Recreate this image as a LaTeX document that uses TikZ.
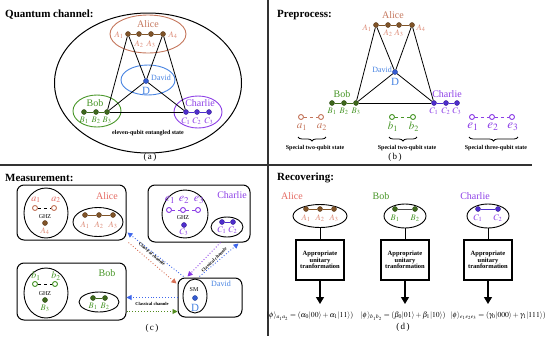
\documentclass[tikz,border=0pt]{standalone}
\usepackage{mathptmx}
\usepackage{fontspec}
\setmainfont{Liberation Serif}
\usepackage{amsmath}
\usepackage{xcolor}
\usepackage{tikz}
\usetikzlibrary{shapes.geometric, arrows.meta, positioning, decorations.pathreplacing}

\definecolor{alicec}{RGB}{196,118,92}
\definecolor{alicered}{RGB}{228,104,96}
\definecolor{alicedot}{RGB}{128,84,40}
\definecolor{alicesub}{RGB}{220,138,118}
\definecolor{bobc}{RGB}{72,150,40}
\definecolor{bobdot}{RGB}{62,104,28}
\definecolor{charc}{RGB}{140,62,230}
\definecolor{chardot}{RGB}{78,46,205}
\definecolor{davc}{RGB}{70,130,225}
\definecolor{davdot}{RGB}{52,92,210}
\definecolor{ccred}{RGB}{215,112,86}
\definecolor{ccblue}{RGB}{62,102,235}
\definecolor{ccpurple}{RGB}{135,52,230}
\definecolor{ccgreen}{RGB}{82,140,30}

\newcommand{\fsz}[1]{\fontsize{#1}{#1}\selectfont}

\begin{document}
\begin{tikzpicture}[
    x=1pt, y=-1pt,
    >=Stealth,
    title_text/.style={anchor=west, font=\fsz{11}\bfseries, inner sep=0pt},
    name_text/.style={font=\fsz{10}, inner sep=0pt},
    david_text/.style={font=\fsz{8}, text=davc, inner sep=0pt},
    big_d/.style={font=\fsz{11}, text=davc, inner sep=0pt},
    sub_text/.style={font=\fsz{8.5}, inner sep=0pt},
    open_lab/.style={font=\fsz{11}, inner sep=0pt},
    small_bold/.style={font=\fsz{6}\bfseries, inner sep=0pt},
    cap_text/.style={font=\fsz{9}, inner sep=0pt},
    ghz_text/.style={font=\fsz{6}, inner sep=0pt},
    eq_text/.style={font=\fsz{8}, inner sep=0pt, scale=0.95, transform shape},
    % Qubits
    qubit_dot/.style={circle, draw=#1!70!black, fill=#1, inner sep=0pt, minimum size=5pt},
    open_dot/.style={circle, draw=#1, fill=white, line width=0.9pt, inner sep=0pt, minimum size=5pt},
    % Containers
    party_ellipse/.style={ellipse, draw=#1, line width=0.9pt, inner sep=0pt},
    meas_box/.style={rectangle, rounded corners=7pt, draw=black, line width=1pt, inner sep=0pt},
    unit_box/.style={rectangle, draw=black, line width=1.2pt, minimum width=48pt, minimum height=40pt, align=center, font=\fsz{6.5}\bfseries, inner sep=1pt},
    % Connectors
    link_line/.style={draw=black, line width=0.8pt},
    pair_line/.style={line width=0.9pt},
    cc_arrow/.style={dotted, line width=0.9pt, -{Triangle[length=5pt, width=5pt]}},
    cc_text/.style={font=\fsz{4.5}\bfseries, inner sep=0.5pt},
    down_arrow/.style={draw=black, line width=1.2pt, -{Triangle[length=7pt, width=8pt]}},
    brace_deco/.style={decorate, decoration={brace, mirror, amplitude=4pt}, line width=0.8pt}
]
    \useasboundingbox (0,0) rectangle (550,346);

    % =========================================================================
    % DIVIDERS
    % =========================================================================
    \draw[line width=1.3pt, black!80] (268,0) -- (268,336);
    \draw[line width=1.3pt, black!80] (0,165) -- (532,165);

    % =========================================================================
    % (a) QUANTUM CHANNEL
    % =========================================================================
    \node[title_text] (title_a) at (5,15) {Quantum channel:};
    \node[ellipse, draw=black, line width=1pt, minimum width=187pt, minimum height=140pt] (channel) at (148,83) {};

    \node[party_ellipse=alicec, minimum width=76pt, minimum height=38pt] (a_alice_ell) at (148,34) {};
    \node[party_ellipse=davc, minimum width=54pt, minimum height=30pt] (a_david_ell) at (148,80) {};
    \node[party_ellipse=bobc, minimum width=48pt, minimum height=32pt] (a_bob_ell) at (97,111) {};
    \node[party_ellipse=charc, minimum width=48pt, minimum height=32pt] (a_char_ell) at (198,112) {};

    \node[name_text, text=alicec] (a_alice) at (148,24) {Alice};
    \node[david_text] (a_david) at (161,78) {David};
    \node[name_text, text=bobc] (a_bob) at (95,103) {Bob};
    \node[name_text, text=charc] (a_char) at (200,103) {Charlie};

    \node[qubit_dot=alicedot] (qa_A1) at (128,34) {};
    \node[qubit_dot=alicedot] (qa_A2) at (139,34) {};
    \node[qubit_dot=alicedot] (qa_A3) at (151,34) {};
    \node[qubit_dot=alicedot] (qa_A4) at (163,34) {};
    \node[qubit_dot=davdot] (qa_D) at (146,81) {};
    \node[qubit_dot=bobdot] (qa_B1) at (84,112) {};
    \node[qubit_dot=bobdot] (qa_B2) at (96,112) {};
    \node[qubit_dot=bobdot] (qa_B3) at (107,112) {};
    \node[qubit_dot=chardot] (qa_C1) at (186,112) {};
    \node[qubit_dot=chardot] (qa_C2) at (197,112) {};
    \node[qubit_dot=chardot] (qa_C3) at (209,112) {};

    \node[sub_text, text=alicesub] (la_A1) at (119,35) {$A_1$};
    \node[sub_text, text=alicesub] (la_A2) at (139,44) {$A_2$};
    \node[sub_text, text=alicesub] (la_A3) at (151,44) {$A_3$};
    \node[sub_text, text=alicesub] (la_A4) at (173,35) {$A_4$};
    \node[big_d] (la_D) at (146,91) {D};
    \node[sub_text, text=bobc] (la_B1) at (84,120) {$B_1$};
    \node[sub_text, text=bobc] (la_B2) at (96,120) {$B_2$};
    \node[sub_text, text=bobc] (la_B3) at (107,120) {$B_3$};
    \node[sub_text, text=charc] (la_C1) at (186,121) {$C_1$};
    \node[sub_text, text=charc] (la_C2) at (197,121) {$C_2$};
    \node[sub_text, text=charc] (la_C3) at (209,121) {$C_3$};

    \draw[pair_line, draw=alicedot] (qa_A1) -- (qa_A2) -- (qa_A3) -- (qa_A4);
    \draw[pair_line, draw=bobdot] (qa_B1) -- (qa_B2) -- (qa_B3);
    \draw[pair_line, draw=chardot] (qa_C1) -- (qa_C2) -- (qa_C3);

    \draw[link_line] (qa_A1) -- (qa_B3);
    \draw[link_line] (qa_A1) -- (qa_D);
    \draw[link_line] (qa_A4) -- (qa_D);
    \draw[link_line] (qa_A4) -- (qa_C1);
    \draw[link_line] (qa_D) -- (qa_B3);
    \draw[link_line] (qa_D) -- (qa_C1);
    \draw[link_line] (qa_B3) -- (qa_C1);

    \node[small_bold] (a_state) at (148,133) {eleven-qubit entangled state};
    \node[cap_text] (cap_a) at (150,157) {(\,a\,)};

    % =========================================================================
    % (b) PREPROCESS
    % =========================================================================
    \node[title_text] (title_b) at (277,15) {Preprocess:};

    \node[name_text, text=alicec] (b_alice) at (393,15) {Alice};
    \node[david_text, anchor=east] (b_david) at (392,70) {David};
    \node[name_text, text=bobc] (b_bob) at (342,94) {Bob};
    \node[name_text, text=charc] (b_char) at (447,94) {Charlie};

    \node[qubit_dot=alicedot] (qb_A1) at (376,25) {};
    \node[qubit_dot=alicedot] (qb_A2) at (388,25) {};
    \node[qubit_dot=alicedot] (qb_A3) at (399,25) {};
    \node[qubit_dot=alicedot] (qb_A4) at (412,25) {};
    \node[qubit_dot=davdot] (qb_D) at (395,72) {};
    \node[qubit_dot=bobdot] (qb_B1) at (332,103) {};
    \node[qubit_dot=bobdot] (qb_B2) at (344,103) {};
    \node[qubit_dot=bobdot] (qb_B3) at (356,103) {};
    \node[qubit_dot=chardot] (qb_C1) at (434,103) {};
    \node[qubit_dot=chardot] (qb_C2) at (446,103) {};
    \node[qubit_dot=chardot] (qb_C3) at (457,103) {};

    \node[sub_text, text=alicesub] (lb_A1) at (367,28) {$A_1$};
    \node[sub_text, text=alicesub] (lb_A2) at (388,33) {$A_2$};
    \node[sub_text, text=alicesub] (lb_A3) at (399,33) {$A_3$};
    \node[sub_text, text=alicesub] (lb_A4) at (421,28) {$A_4$};
    \node[big_d] (lb_D) at (395,82) {D};
    \node[sub_text, text=bobc] (lb_B1) at (332,111) {$B_1$};
    \node[sub_text, text=bobc] (lb_B2) at (344,111) {$B_2$};
    \node[sub_text, text=bobc] (lb_B3) at (356,111) {$B_3$};
    \node[sub_text, text=charc] (lb_C1) at (434,111) {$C_1$};
    \node[sub_text, text=charc] (lb_C2) at (446,111) {$C_2$};
    \node[sub_text, text=charc] (lb_C3) at (457,111) {$C_3$};

    \draw[pair_line, draw=alicedot] (qb_A1) -- (qb_A2) -- (qb_A3) -- (qb_A4);
    \draw[pair_line, draw=bobdot] (qb_B1) -- (qb_B2) -- (qb_B3);
    \draw[pair_line, draw=chardot] (qb_C1) -- (qb_C2) -- (qb_C3);

    \draw[link_line] (qb_A1) -- (qb_B3);
    \draw[link_line] (qb_A1) -- (qb_D);
    \draw[link_line] (qb_A4) -- (qb_D);
    \draw[link_line] (qb_A4) -- (qb_C1);
    \draw[link_line] (qb_D) -- (qb_B3);
    \draw[link_line] (qb_D) -- (qb_C1);
    \draw[link_line] (qb_B3) -- (qb_C1);

    % Special states
    \node[open_dot=alicec] (ob_a1) at (301,117) {};
    \node[open_dot=alicec] (ob_a2) at (321,117) {};
    \node[open_dot=bobc] (ob_b1) at (392,117) {};
    \node[open_dot=bobc] (ob_b2) at (413,117) {};
    \node[open_dot=charc] (ob_e1) at (472,117) {};
    \node[open_dot=charc] (ob_e2) at (492,117) {};
    \node[open_dot=charc] (ob_e3) at (512,117) {};
    \draw[pair_line, dashed, draw=alicec] (ob_a1) -- (ob_a2);
    \draw[pair_line, dashed, draw=bobc] (ob_b1) -- (ob_b2);
    \draw[pair_line, dashed, draw=charc] (ob_e1) -- (ob_e2) -- (ob_e3);

    \node[open_lab, text=alicec] (lb_a1) at (302,127) {$a_1$};
    \node[open_lab, text=alicec] (lb_a2) at (322,127) {$a_2$};
    \node[open_lab, text=bobc] (lb_b1) at (393,127) {$b_1$};
    \node[open_lab, text=bobc] (lb_b2) at (414,127) {$b_2$};
    \node[open_lab, text=charc, font=\fsz{13}] (lb_e1) at (473,127) {$e_1$};
    \node[open_lab, text=charc, font=\fsz{13}] (lb_e2) at (493,127) {$e_2$};
    \node[open_lab, text=charc, font=\fsz{13}] (lb_e3) at (513,127) {$e_3$};

    \draw[brace_deco] (298,137) -- (326,137);
    \draw[brace_deco] (389,137) -- (417,137);
    \draw[brace_deco] (469,137) -- (518,137);

    \node[small_bold] (b_two_a) at (315,148) {Special two-qubit state};
    \node[small_bold] (b_two_b) at (407,148) {Special two-qubit state};
    \node[small_bold] (b_three) at (496,148) {Special three-qubit state};
    \node[cap_text] (cap_b) at (395,157) {(\,b\,)};

    % =========================================================================
    % (c) MEASUREMENT
    % =========================================================================
    \node[title_text] (title_c) at (5,178) {Measurement:};

    \node[meas_box, minimum width=109pt, minimum height=55pt] (alice_mbox) at (71.5,212.5) {};
    \node[meas_box, minimum width=109pt, minimum height=57pt] (bob_mbox) at (71.5,291.5) {};
    \node[meas_box, minimum width=102pt, minimum height=57pt] (char_mbox) at (199,213.5) {};
    \node[meas_box, minimum width=64pt, minimum height=39pt] (david_mbox) at (210,297.5) {};

    \node[name_text, text=alicered] (c_alice) at (107,196) {Alice};
    \node[name_text, text=bobc] (c_bob) at (107,273) {Bob};
    \node[name_text, text=charc] (c_char) at (232,195) {Charlie};
    \node[david_text] (c_david) at (221,284) {David};

    % Alice
    \node[ellipse, draw=black, line width=0.9pt, minimum width=44pt, minimum height=50pt] (c_alice_ghz) at (46,213) {};
    \node[ellipse, draw=black, line width=0.9pt, minimum width=50pt, minimum height=29pt] (c_alice_pair) at (98,222) {};
    \node[open_dot=alicec] (oc_a1) at (35,208) {};
    \node[open_dot=alicec] (oc_a2) at (54,208) {};
    \draw[pair_line, dashed] (oc_a1) -- (oc_a2);
    \node[open_lab, text=alicered, font=\fsz{10}] (lc_a1) at (36,200) {$a_1$};
    \node[open_lab, text=alicered, font=\fsz{10}] (lc_a2) at (56,200) {$a_2$};
    \node[ghz_text] (c_alice_g) at (45,217) {GHZ};
    \node[qubit_dot=alicedot] (qc_A4) at (45,223) {};
    \node[sub_text, text=alicesub] (lc_A4) at (45,231) {$A_4$};
    \node[qubit_dot=alicedot] (qc_A1) at (85,215) {};
    \node[qubit_dot=alicedot] (qc_A2) at (99,215) {};
    \node[qubit_dot=alicedot] (qc_A3) at (113,215) {};
    \draw[pair_line, draw=alicedot] (qc_A1) -- (qc_A2) -- (qc_A3);
    \node[sub_text, text=alicesub] (lc_A1) at (85,225) {$A_1$};
    \node[sub_text, text=alicesub] (lc_A2) at (99,225) {$A_2$};
    \node[sub_text, text=alicesub] (lc_A3) at (113,225) {$A_3$};

    % Bob
    \node[ellipse, draw=black, line width=0.9pt, minimum width=44pt, minimum height=50pt] (c_bob_ghz) at (46,293) {};
    \node[ellipse, draw=black, line width=0.9pt, minimum width=40pt, minimum height=20pt] (c_bob_pair) at (99,302) {};
    \node[open_dot=bobc] (oc_b1) at (35,284) {};
    \node[open_dot=bobc] (oc_b2) at (55,284) {};
    \draw[pair_line, dashed] (oc_b1) -- (oc_b2);
    \node[open_lab, text=bobc, font=\fsz{10}] (lc_b1) at (36,276) {$b_1$};
    \node[open_lab, text=bobc, font=\fsz{10}] (lc_b2) at (56,276) {$b_2$};
    \node[ghz_text] (c_bob_g) at (45,294) {GHZ};
    \node[qubit_dot=bobdot] (qc_B3) at (45,300) {};
    \node[sub_text, text=bobc] (lc_B3) at (45,308) {$B_3$};
    \node[qubit_dot=bobdot] (qc_B1) at (93,298) {};
    \node[qubit_dot=bobdot] (qc_B2) at (105,298) {};
    \draw[pair_line, draw=bobdot] (qc_B1) -- (qc_B2);
    \node[sub_text, text=bobc] (lc_B1) at (93,306) {$B_1$};
    \node[sub_text, text=bobc] (lc_B2) at (105,306) {$B_2$};

    % Charlie
    \node[ellipse, draw=black, line width=0.9pt, minimum width=46pt, minimum height=48pt] (c_char_ghz) at (185,214) {};
    \node[ellipse, draw=black, line width=0.9pt, minimum width=32pt, minimum height=20pt] (c_char_pair) at (227,227) {};
    \node[open_dot=charc] (oc_e1) at (169,210) {};
    \node[open_dot=charc] (oc_e2) at (183,210) {};
    \node[open_dot=charc] (oc_e3) at (198,210) {};
    \draw[pair_line, dashed, draw=charc] (oc_e1) -- (oc_e2) -- (oc_e3);
    \node[open_lab, text=charc, font=\fsz{12}] (lc_e1) at (170,200) {$e_1$};
    \node[open_lab, text=charc, font=\fsz{12}] (lc_e2) at (184,200) {$e_2$};
    \node[open_lab, text=charc, font=\fsz{12}] (lc_e3) at (199,200) {$e_3$};
    \node[ghz_text] (c_char_g) at (183,218) {GHZ};
    \node[qubit_dot=chardot] (qc_C3) at (184,225) {};
    \node[sub_text, text=charc] (lc_C3) at (184,232) {$C_3$};
    \node[qubit_dot=chardot] (qc_C1) at (222,222) {};
    \node[qubit_dot=chardot] (qc_C2) at (233,222) {};
    \draw[pair_line, draw=chardot] (qc_C1) -- (qc_C2);
    \node[sub_text, text=charc] (lc_C1) at (222,230) {$C_1$};
    \node[sub_text, text=charc] (lc_C2) at (233,230) {$C_2$};

    % David
    \node[ellipse, draw=black, line width=0.9pt, minimum width=24pt, minimum height=34pt] (c_david_sm) at (195,296) {};
    \node[ghz_text] (c_sm) at (194,290) {SM};
    \node[qubit_dot=davdot] (qc_D) at (195,298) {};
    \node[big_d] (lc_D) at (195,308) {D};

    % Classical channels
    \draw[cc_arrow, draw=ccred] ([xshift=2pt, yshift=-2pt]alice_mbox.south east) -- ([xshift=-1pt, yshift=-6pt]david_mbox.north west);
    \draw[cc_arrow, draw=ccblue] ([xshift=6pt, yshift=1pt]david_mbox.north west) -- ([xshift=1pt, yshift=8pt]alice_mbox.south east);
    \node[cc_text, rotate=-40] (cc_ad) at (152,254) {Classical channle};

    \draw[cc_arrow, draw=ccpurple] ([xshift=-30pt]char_mbox.south east) -- ([xshift=10pt, yshift=1pt]david_mbox.north west);
    \draw[cc_arrow, draw=ccblue] ([xshift=22pt, yshift=1pt]david_mbox.north west) -- ([xshift=-12pt, yshift=-1pt]char_mbox.south east);
    \node[cc_text, rotate=44] (cc_cd) at (214,260) {Classical channle};

    \coordinate (bob_cc) at ([yshift=9pt]bob_mbox.south east);
    \draw[cc_arrow, draw=ccblue] (david_mbox.west) -- (david_mbox.west -| bob_mbox.east);
    \draw[cc_arrow, draw=ccgreen] (bob_cc) -- (bob_cc -| david_mbox.west);
    \node[cc_text] (cc_bd) at (152,304) {Classical channle};

    \node[cap_text] (cap_c) at (152,328) {(\,c\,)};

    % =========================================================================
    % (d) RECOVERING
    % =========================================================================
    \node[title_text] (title_d) at (277,178) {Recovering:};

    \node[name_text, text=alicered] (d_alice) at (292,196) {Alice};
    \node[name_text, text=bobc] (d_bob) at (381,196) {Bob};
    \node[name_text, text=charc] (d_char) at (475,196) {Charlie};

    \node[ellipse, draw=black, line width=0.9pt, minimum width=54pt, minimum height=23pt] (d_alice_ell) at (320,216) {};
    \node[ellipse, draw=black, line width=0.9pt, minimum width=42pt, minimum height=24pt] (d_bob_ell) at (405,216) {};
    \node[ellipse, draw=black, line width=0.9pt, minimum width=42pt, minimum height=24pt] (d_char_ell) at (488,216) {};

    \node[qubit_dot=alicedot] (qd_A1) at (306,209) {};
    \node[qubit_dot=alicedot] (qd_A2) at (320,209) {};
    \node[qubit_dot=alicedot] (qd_A3) at (334,209) {};
    \draw[pair_line, draw=alicedot] (qd_A1) -- (qd_A2) -- (qd_A3);
    \node[sub_text, text=alicesub] (ld_A1) at (306,218) {$A_1$};
    \node[sub_text, text=alicesub] (ld_A2) at (320,218) {$A_2$};
    \node[sub_text, text=alicesub] (ld_A3) at (334,218) {$A_3$};

    \node[qubit_dot=bobdot] (qd_B1) at (395,209) {};
    \node[qubit_dot=bobdot] (qd_B2) at (415,209) {};
    \draw[pair_line, draw=black!70] (qd_B1) -- (qd_B2);
    \node[sub_text, text=bobc] (ld_B1) at (395,218) {$B_1$};
    \node[sub_text, text=bobc] (ld_B2) at (415,218) {$B_2$};

    \node[qubit_dot=chardot] (qd_C1) at (478,209) {};
    \node[qubit_dot=chardot] (qd_C2) at (498,209) {};
    \draw[pair_line, draw=chardot] (qd_C1) -- (qd_C2);
    \node[sub_text, text=charc] (ld_C1) at (478,218) {$C_1$};
    \node[sub_text, text=charc] (ld_C2) at (498,218) {$C_2$};

    \node[unit_box] (d_alice_box) at (320,260) {Appropriate\\unitary\\tranformation};
    \node[unit_box] (d_bob_box) at (405,260) {Appropriate\\unitary\\tranformation};
    \node[unit_box] (d_char_box) at (488,260) {Appropriate\\unitary\\tranformation};

    \draw[link_line, line width=1pt] (d_alice_ell.south) -- (d_alice_box.north);
    \draw[link_line, line width=1pt] (d_bob_ell.south) -- (d_bob_box.north);
    \draw[link_line, line width=1pt] (d_char_ell.south) -- (d_char_box.north);

    \coordinate (d_alice_tip) at (320,304);
    \coordinate (d_bob_tip) at (405,304);
    \coordinate (d_char_tip) at (488,304);
    \draw[down_arrow] (d_alice_box.south) -- (d_alice_tip);
    \draw[down_arrow] (d_bob_box.south) -- (d_bob_tip);
    \draw[down_arrow] (d_char_box.south) -- (d_char_tip);

    \node[eq_text] (d_alice_eq) at (310,316) {$|\phi\rangle_{a_1a_2}=(\alpha_0|00\rangle+\alpha_1|11\rangle)$};
    \node[eq_text] (d_bob_eq) at (403,316) {$|\phi\rangle_{b_1b_2}=(\beta_0|01\rangle+\beta_1|10\rangle)$};
    \node[eq_text] (d_char_eq) at (498,316) {$|\phi\rangle_{e_1e_2e_3}=(\gamma_0|000\rangle+\gamma_1|111\rangle)$};

    \node[cap_text] (cap_d) at (403,327) {(\,d\,)};
\end{tikzpicture}
\end{document}
